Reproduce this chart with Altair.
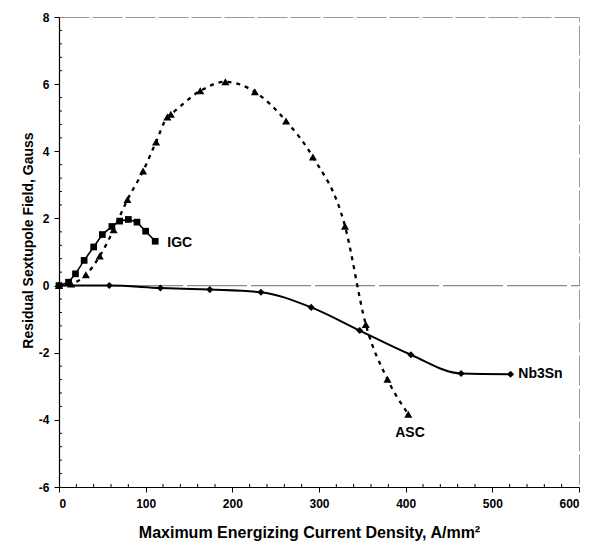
import altair as alt
import pandas as pd

# ---- data ----
igc_x = [0, 11, 19, 29, 40, 50, 61, 70, 80, 90, 100, 111]
igc_y = [0, 0.1, 0.35, 0.75, 1.15, 1.52, 1.76, 1.92, 1.97, 1.89, 1.62, 1.32]

asc_x = [0, 14, 31, 47, 63, 79, 97, 112, 125, 129, 163, 192, 226, 262, 293, 330, 354, 379, 403]
asc_y = [0, 0.05, 0.32, 0.88, 1.66, 2.56, 3.41, 4.28, 5.02, 5.1, 5.80, 6.07, 5.77, 4.90, 3.83, 1.77, -1.16, -2.79, -3.83]

nb_x = [0, 58, 117, 174, 233, 291, 347, 406, 464, 521]
nb_y = [0, 0.0, -0.07, -0.12, -0.2, -0.65, -1.34, -2.06, -2.62, -2.64]

label_text = ["IGC", "ASC", "Nb3Sn"]
label_x = [125, 405, 530]
label_y = [1.28, -4.39, -2.64]
label_align = ["left", "center", "left"]

x_minor = [v for v in range(20, 600, 20) if v % 100 != 0]
y_minor = [round(-6 + 0.4 * i, 1) for i in range(1, 35) if abs(round(-6 + 0.4 * i, 1)) % 2 > 0.01]

FONT = "Liberation Sans"
W, H = 520, 470

igc = pd.DataFrame({"x": igc_x, "y": igc_y})
asc = pd.DataFrame({"x": asc_x, "y": asc_y})
nb = pd.DataFrame({"x": nb_x, "y": nb_y})
labels = pd.DataFrame({"t": label_text, "x": label_x, "y": label_y, "a": label_align})

xs = alt.Scale(domain=[0, 600], nice=False, zero=False)
ys = alt.Scale(domain=[-6, 8], nice=False, zero=False)

xax = alt.Axis(values=list(range(0, 601, 100)), grid=False, domainColor="black",
               domainWidth=1.2, tickColor="black", tickSize=5, labelFont=FONT,
               labelFontSize=12, labelFontWeight="bold", labelPadding=6,
               labelExpr="'' + datum.value",
               title="Maximum Energizing Current Density, A/mm²", titleFont=FONT,
               titleFontSize=16, titleFontWeight="bold", titleY=45,
               titleBaseline="middle", titleX=250)
yax = alt.Axis(values=list(range(-6, 9, 2)), grid=False, domainColor="black",
               domainWidth=1.2, tickColor="black", tickSize=5, labelFont=FONT,
               labelFontSize=12, labelFontWeight="bold", labelPadding=5,
               labelExpr="'' + datum.value",
               title="Residual Sextupole Field, Gauss", titleFont=FONT,
               titleFontSize=14, titleFontWeight="bold", titleX=-31, titleY=223,
               titleAngle=-90, titleBaseline="middle")

zero = alt.Chart(pd.DataFrame({"y": [0]})).mark_rule(
    color="#8a8a8a", strokeWidth=1.3, strokeDash=[60, 4]
).encode(y=alt.Y("y:Q", scale=ys), x=alt.value(0), x2=alt.value(W))

igc_line = alt.Chart(igc).mark_line(color="black", strokeWidth=1.6).encode(
    x=alt.X("x:Q", scale=xs, axis=xax), y=alt.Y("y:Q", scale=ys, axis=yax))
igc_pts = alt.Chart(igc).mark_point(shape="square", filled=True, color="black",
                                    size=45, opacity=1).encode(
    x=alt.X("x:Q", scale=xs), y=alt.Y("y:Q", scale=ys))

asc_line = alt.Chart(asc).mark_line(color="black", strokeWidth=2.3,
                                    strokeDash=[4, 5], interpolate="monotone").encode(
    x=alt.X("x:Q", scale=xs), y=alt.Y("y:Q", scale=ys))
asc_pts = alt.Chart(asc).mark_point(shape="triangle-up", filled=True, color="black",
                                    size=65, opacity=1).encode(
    x=alt.X("x:Q", scale=xs), y=alt.Y("y:Q", scale=ys))

nb_line = alt.Chart(nb).mark_line(color="black", strokeWidth=2,
                                  interpolate="monotone").encode(
    x=alt.X("x:Q", scale=xs), y=alt.Y("y:Q", scale=ys))
nb_pts = alt.Chart(nb).mark_point(shape="diamond", filled=True, color="black",
                                  size=50, opacity=1).encode(
    x=alt.X("x:Q", scale=xs), y=alt.Y("y:Q", scale=ys))

lab_left = alt.Chart(labels[labels.a == "left"]).mark_text(
    font=FONT, fontSize=14, fontWeight="bold", align="left", baseline="middle",
    color="black").encode(x=alt.X("x:Q", scale=xs), y=alt.Y("y:Q", scale=ys), text="t:N")
lab_center = alt.Chart(labels[labels.a == "center"]).mark_text(
    font=FONT, fontSize=14, fontWeight="bold", align="center", baseline="middle",
    color="black").encode(x=alt.X("x:Q", scale=xs), y=alt.Y("y:Q", scale=ys), text="t:N")

xminor = alt.Chart(pd.DataFrame({"x": x_minor})).mark_rule(color="black", strokeWidth=1).encode(
    x=alt.X("x:Q", scale=xs), y=alt.value(H), y2=alt.value(H - 3))
yminor = alt.Chart(pd.DataFrame({"y": y_minor})).mark_rule(color="black", strokeWidth=1).encode(
    y=alt.Y("y:Q", scale=ys), x=alt.value(0), x2=alt.value(3))

chart = alt.layer(
    zero, igc_line, asc_line, nb_line, igc_pts, asc_pts, nb_pts,
    lab_left, lab_center, xminor, yminor
).properties(
    width=W, height=H,
    autosize=alt.AutoSizeParams(type="none"),
    padding={"left": 51, "top": 9, "right": 5, "bottom": 60},
    background="white",
).configure_view(stroke="#9a9a9a", strokeWidth=1, strokeDash=[30, 3])

chart.save("out.html", embed_options={"renderer": "svg", "actions": False})
